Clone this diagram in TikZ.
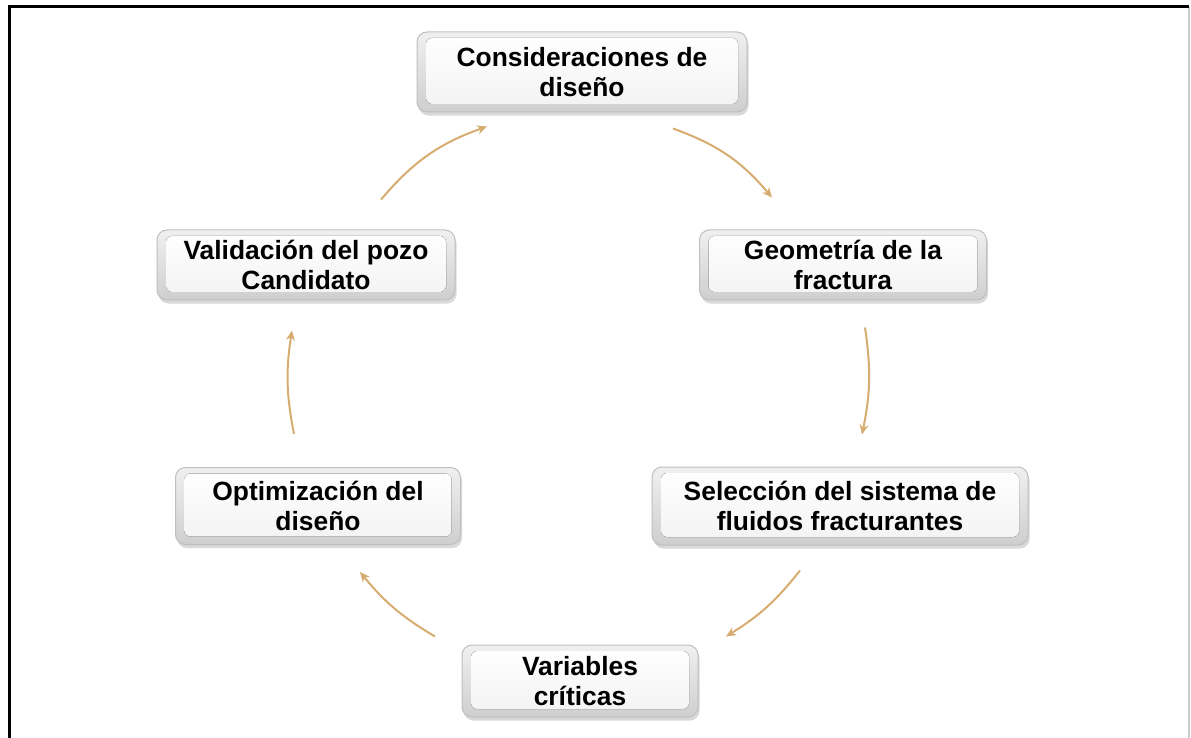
\documentclass[tikz,border=0pt]{standalone}
\usepackage{fontspec}
\setmainfont{Liberation Sans}
\usetikzlibrary{arrows.meta,shadows,calc}
\definecolor{arrowtan}{RGB}{214,172,112}
\tikzset{
  box/.style={rounded corners=5pt, draw=gray!50, line width=0.5pt,
    top color=gray!12, bottom color=gray!38,
    drop shadow={opacity=0.3, shadow xshift=0.8pt, shadow yshift=-1.8pt},
    font=\fontsize{13.2}{14.6}\selectfont\bfseries, align=center, inner sep=0pt,
    path picture={
      \fill[rounded corners=3pt, top color=white, bottom color=gray!10]
        ([shift={(4.5pt,-3pt)}]path picture bounding box.north west) rectangle
        ([shift={(-4.5pt,4pt)}]path picture bounding box.south east);
    }},
  flow/.style={draw=arrowtan, line width=1pt, -{Stealth[length=5pt,width=4.5pt]}},
}
\begin{document}
\begin{tikzpicture}[x=0.5pt,y=-0.5pt]
\useasboundingbox (0,0) rectangle (1191,738);
% frame
\draw[gray!40, line width=0.6pt] (1189,7) -- (1189,738);
\draw[black, line width=1.5pt] (9.5,738) -- (9.5,7) -- (1189,7);
% boxes
\node[box, minimum width=165pt, minimum height=40pt] (n1) at (582,72) {Consideraciones de\\diseño};
\node[box, minimum width=143.5pt, minimum height=35pt] (n2) at (843,265) {Geometría de la\\fractura};
\node[box, minimum width=188pt, minimum height=39pt] (n3) at (840,506) {Selección del sistema de\\fluidos fracturantes};
\node[box, minimum width=118pt, minimum height=36pt] (n4) at (580,681) {Variables\\críticas};
\node[box, minimum width=142.5pt, minimum height=38.5pt] (n5) at (318,506) {Optimización del\\diseño};
\node[box, minimum width=149pt, minimum height=35pt] (n6) at (306,265) {Validación del pozo\\Candidato};
% connectors
\draw[flow] ($(n1.south)+(91,16)$) to[bend left=15] ($(n2.north)+(-71,-32)$);
\draw[flow] ($(n2.south)+(22,27)$) to[bend left=10] ($(n3.north)+(22,-32)$);
\draw[flow] ($(n3.south)+(-40,25)$) to[bend left=10] ($(n4.north)+(146,-8)$);
\draw[flow] ($(n4.north)+(-145,-8)$) to[bend left=10] ($(n5.south)+(42,27)$);
\draw[flow] ($(n5.north)+(-24,-33)$) to[bend left=10] ($(n6.south)+(-14,30)$);
\draw[flow] ($(n6.north)+(75,-30)$) to[bend left=15] ($(n1.south)+(-95,14)$);
\end{tikzpicture}
\end{document}
